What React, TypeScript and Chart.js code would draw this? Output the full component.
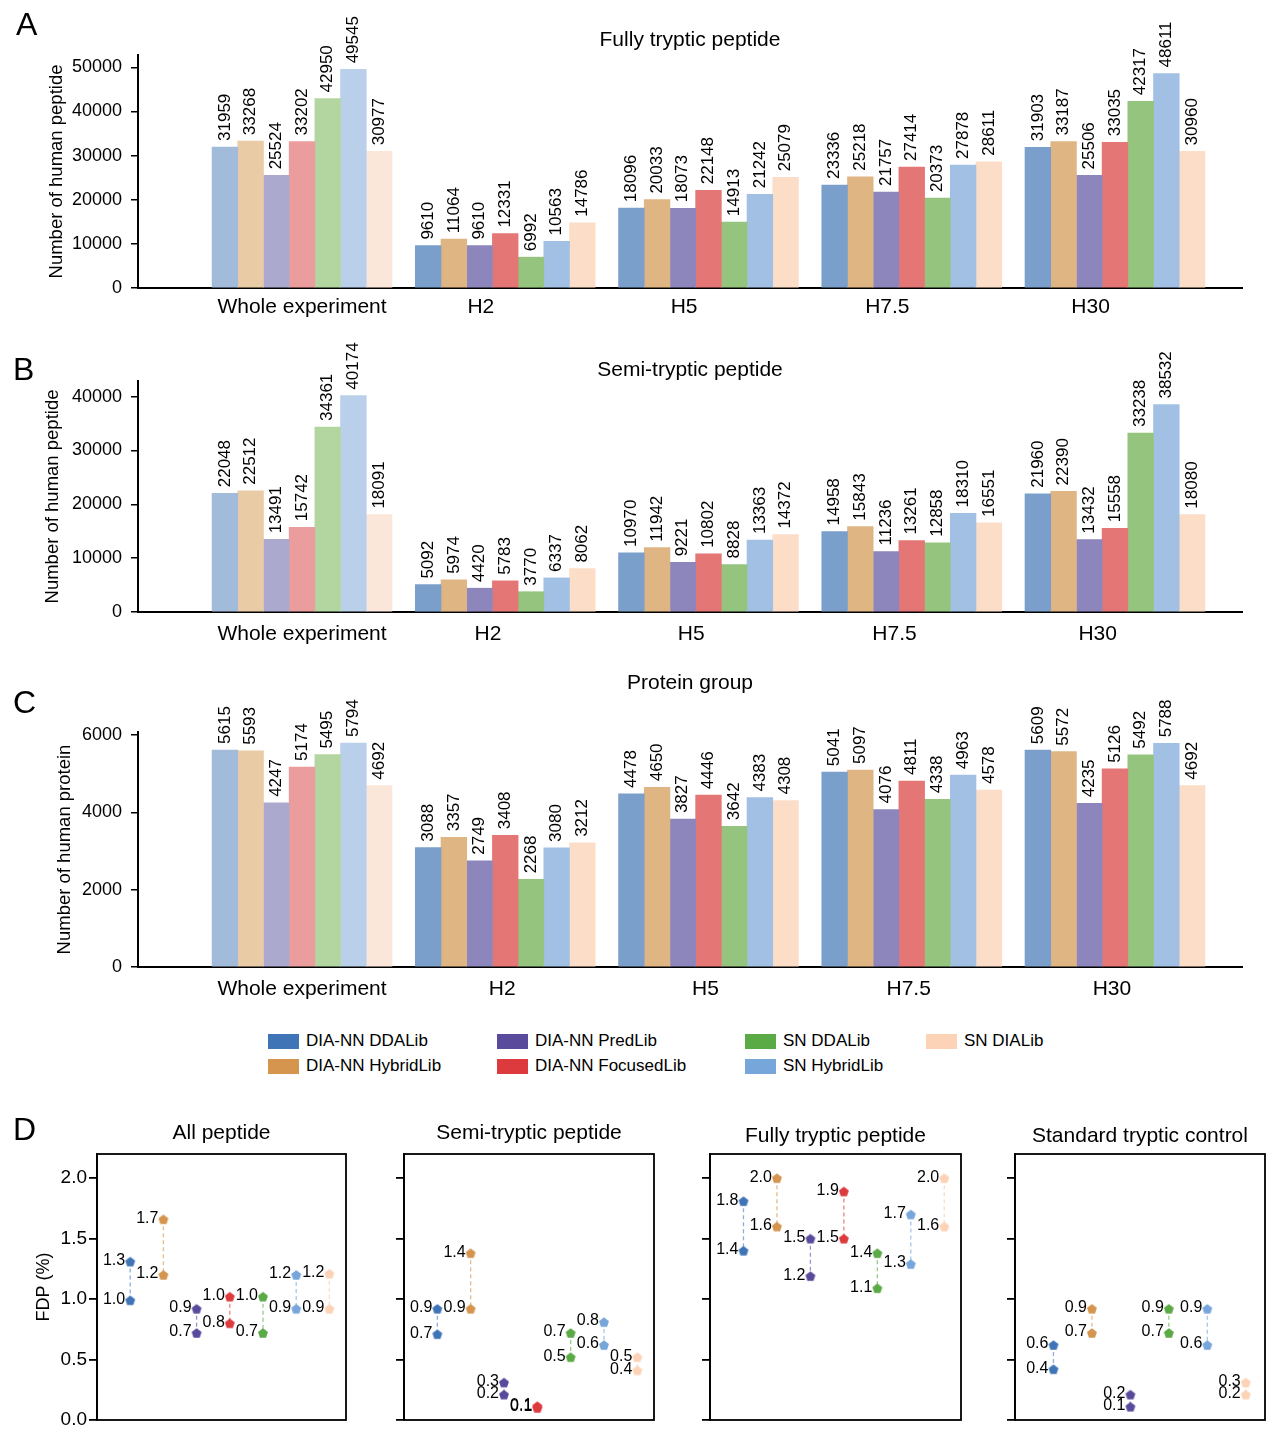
import React, { useEffect, useRef } from 'react';
import { Chart, registerables } from 'chart.js';

Chart.register(...registerables);

const FONT = "'Liberation Sans', Arial, Helvetica, sans-serif";

// ---------- data ----------
const GROUPS = ['Whole experiment', 'H2', 'H5', 'H7.5', 'H30'];
const SERIES = ['DIA-NN DDALib', 'DIA-NN HybridLib', 'DIA-NN PredLib', 'DIA-NN FocusedLib', 'SN DDALib', 'SN HybridLib', 'SN DIALib'];

// A: Fully tryptic peptide
const FULLY_DIANN_DDA = [31959, 9610, 18096, 23336, 31903];
const FULLY_DIANN_HYBRID = [33268, 11064, 20033, 25218, 33187];
const FULLY_DIANN_PRED = [25524, 9610, 18073, 21757, 25506];
const FULLY_DIANN_FOCUSED = [33202, 12331, 22148, 27414, 33035];
const FULLY_SN_DDA = [42950, 6992, 14913, 20373, 42317];
const FULLY_SN_HYBRID = [49545, 10563, 21242, 27878, 48611];
const FULLY_SN_DIA = [30977, 14786, 25079, 28611, 30960];

// B: Semi-tryptic peptide
const SEMI_DIANN_DDA = [22048, 5092, 10970, 14958, 21960];
const SEMI_DIANN_HYBRID = [22512, 5974, 11942, 15843, 22390];
const SEMI_DIANN_PRED = [13491, 4420, 9221, 11236, 13432];
const SEMI_DIANN_FOCUSED = [15742, 5783, 10802, 13261, 15558];
const SEMI_SN_DDA = [34361, 3770, 8828, 12858, 33238];
const SEMI_SN_HYBRID = [40174, 6337, 13363, 18310, 38532];
const SEMI_SN_DIA = [18091, 8062, 14372, 16551, 18080];

// C: Protein group
const PROT_DIANN_DDA = [5615, 3088, 4478, 5041, 5609];
const PROT_DIANN_HYBRID = [5593, 3357, 4650, 5097, 5572];
const PROT_DIANN_PRED = [4247, 2749, 3827, 4076, 4235];
const PROT_DIANN_FOCUSED = [5174, 3408, 4446, 4811, 5126];
const PROT_SN_DDA = [5495, 2268, 3642, 4338, 5492];
const PROT_SN_HYBRID = [5794, 3080, 4383, 4963, 5788];
const PROT_SN_DIA = [4692, 3212, 4308, 4578, 4692];

const A_TICKS = [0, 10000, 20000, 30000, 40000, 50000];
const B_TICKS = [0, 10000, 20000, 30000, 40000];
const C_TICKS = [0, 2000, 4000, 6000];

// D: FDP (%) — [upper, lower] per library
const D_SERIES_ALL = SERIES;
const D_SERIES_STD = ['DIA-NN DDALib', 'DIA-NN HybridLib', 'DIA-NN PredLib', 'SN DDALib', 'SN HybridLib', 'SN DIALib'];
const FDP_ALL_HIGH = [1.31, 1.66, 0.92, 1.02, 1.02, 1.2, 1.21];
const FDP_ALL_LOW = [0.99, 1.2, 0.72, 0.8, 0.72, 0.92, 0.92];
const FDP_SEMI_HIGH = [0.92, 1.38, 0.31, 0.115, 0.72, 0.81, 0.52];
const FDP_SEMI_LOW = [0.71, 0.92, 0.21, 0.1, 0.52, 0.62, 0.41];
const FDP_FULLY_HIGH = [1.81, 2.0, 1.5, 1.89, 1.38, 1.7, 2.0];
const FDP_FULLY_LOW = [1.4, 1.6, 1.19, 1.5, 1.09, 1.29, 1.6];
const FDP_STD_HIGH = [0.62, 0.92, 0.21, 0.92, 0.92, 0.31];
const FDP_STD_LOW = [0.42, 0.72, 0.11, 0.72, 0.62, 0.21];
const FDP_TICKS = [0, 0.5, 1.0, 1.5, 2.0];

// ---------- colours ----------
const COLOR_OF: Record<string, { whole: string; group: string; strong: string; line: string }> = {
  'DIA-NN DDALib': { whole: '#a3bbdb', group: '#7b9fcb', strong: '#3f74b6', line: '#8eaedb' },
  'DIA-NN HybridLib': { whole: '#e9cba6', group: '#e0b584', strong: '#d5954f', line: '#e8bb8a' },
  'DIA-NN PredLib': { whole: '#aca9cf', group: '#8c86bc', strong: '#5a4a9c', line: '#9d93c8' },
  'DIA-NN FocusedLib': { whole: '#eb9d9d', group: '#e47775', strong: '#dd3a3d', line: '#ec8484' },
  'SN DDALib': { whole: '#b3d6a1', group: '#94c47e', strong: '#5aaa45', line: '#95cc84' },
  'SN HybridLib': { whole: '#bad0ea', group: '#a2c0e4', strong: '#77a6db', line: '#a9c6ea' },
  'SN DIALib': { whole: '#fbe7d9', group: '#fcdec8', strong: '#fcd3b6', line: '#fcdcc6' },
};

// ---------- plugins ----------
const barLabelPlugin = {
  id: 'barLabels',
  afterDatasetsDraw(chart: any) {
    const ctx = chart.ctx;
    ctx.save();
    ctx.font = `17px ${FONT}`;
    ctx.fillStyle = '#000';
    ctx.textAlign = 'left';
    ctx.textBaseline = 'middle';
    chart.data.datasets.forEach((ds: any, i: number) => {
      chart.getDatasetMeta(i).data.forEach((el: any, j: number) => {
        const v = ds.data[j].y;
        ctx.save();
        ctx.translate(el.x, el.y - 6);
        ctx.rotate(-Math.PI / 2);
        ctx.fillText(String(v), 0, 0);
        ctx.restore();
      });
    });
    ctx.restore();
  },
};

const frameLabelPlugin = {
  id: 'frameLabels',
  afterDatasetsDraw(chart: any) {
    const ctx = chart.ctx;
    const a = chart.chartArea;
    ctx.save();
    ctx.font = `16px ${FONT}`;
    ctx.fillStyle = '#000';
    ctx.textAlign = 'right';
    ctx.textBaseline = 'middle';
    chart.data.datasets.forEach((ds: any, i: number) => {
      chart.getDatasetMeta(i).data.forEach((el: any, j: number) => {
        ctx.fillText(ds.data[j].y.toFixed(1), el.x - 5, el.y - 1);
      });
    });
    ctx.strokeStyle = '#000';
    ctx.lineWidth = 1.8;
    ctx.strokeRect(a.left, a.top, a.right - a.left, a.bottom - a.top);
    ctx.restore();
  },
};

function pentagon(color: string): HTMLCanvasElement {
  const c = document.createElement('canvas');
  c.width = 12;
  c.height = 12;
  const g = c.getContext('2d')!;
  g.fillStyle = color;
  g.beginPath();
  for (let k = 0; k < 5; k++) {
    const ang = -Math.PI / 2 + (k * 2 * Math.PI) / 5;
    const px = 6 + 5.2 * Math.cos(ang);
    const py = 6.5 + 5.2 * Math.sin(ang);
    if (k === 0) g.moveTo(px, py);
    else g.lineTo(px, py);
  }
  g.closePath();
  g.fill();
  return c;
}

// ---------- bar chart ----------
type BarCfg = {
  top: number;
  height: number;
  title: string;
  yTitle: string;
  series: number[][];
  yMax: number;
  yTicks: number[];
  padTop: number;
  titleGap: number;
  xHeight: number;
  xPad: number;
  labelShift: number;
  yTitlePad: number;
};

function BarPanel(p: BarCfg) {
  const ref = useRef<HTMLCanvasElement>(null);
  useEffect(() => {
    const font = { family: FONT, size: 18 };
    const chart = new Chart(ref.current!, {
      type: 'bar',
      data: {
        datasets: p.series.map((vals, i) => ({
          label: SERIES[i],
          data: vals.map((v, j) => ({ x: j, y: v })),
          backgroundColor: vals.map((_, j) => (j === 0 ? COLOR_OF[SERIES[i]].whole : COLOR_OF[SERIES[i]].group)),
          borderWidth: 0,
          barThickness: 25.7,
        })),
      },
      options: {
        responsive: false,
        animation: false,
        events: [],
        layout: { padding: { top: p.padTop, right: 36, left: 0, bottom: 0 } },
        plugins: {
          legend: { display: false },
          tooltip: { enabled: false },
          title: {
            display: true,
            text: p.title,
            fullSize: false,
            color: '#000',
            font: { family: FONT, size: 21, weight: 'normal', lineHeight: 1 },
            padding: { top: 0, bottom: p.titleGap },
          },
        },
        scales: {
          x: {
            type: 'linear',
            min: -0.807,
            max: 4.625,
            offset: false,
            grid: { display: false, drawTicks: false },
            border: { display: true, color: '#000', width: 2 },
            afterBuildTicks: (s: any) => {
              s.ticks = GROUPS.map((_, i) => ({ value: i + (i === 0 ? 0 : p.labelShift) }));
            },
            afterFit: (s: any) => {
              s.height = p.xHeight;
            },
            ticks: {
              autoSkip: false,
              maxRotation: 0,
              padding: p.xPad,
              color: '#000',
              font: { family: FONT, size: 21 },
              callback: (_v: any, idx: number) => GROUPS[idx],
            },
          },
          y: {
            min: 0,
            max: p.yMax,
            afterBuildTicks: (s: any) => {
              s.ticks = p.yTicks.map((v) => ({ value: v }));
            },
            afterFit: (s: any) => {
              s.width = 138;
            },
            grid: { display: true, drawOnChartArea: false, drawTicks: true, tickLength: 7, color: '#000', lineWidth: 1.5 },
            border: { display: true, color: '#000', width: 2 },
            ticks: { color: '#000', font, padding: 9, callback: (v: any) => String(v) },
            title: {
              display: true,
              text: p.yTitle,
              color: '#000',
              font: { family: FONT, size: 18.5, lineHeight: 1.2 },
              padding: { top: p.yTitlePad, bottom: 0 },
            },
          },
        },
      } as any,
      plugins: [barLabelPlugin],
    });
    return () => chart.destroy();
  }, []);
  return (
    <canvas
      ref={ref}
      width={1278}
      height={p.height}
      style={{ position: 'absolute', left: 0, top: p.top, width: 1278, height: p.height }}
    />
  );
}

// ---------- FDP panel ----------
type FdpCfg = {
  frameL: number;
  frameR: number;
  axisW: number;
  title: string;
  names: string[];
  highs: number[];
  lows: number[];
  showTickLabels: boolean;
  titleCenter: number;
};

const D_TOP = 1100;
const D_HEIGHT = 340;
const D_FRAME_TOP = 1154;
const D_FRAME_BOTTOM = 1420;

function FdpPanel(p: FdpCfg) {
  const ref = useRef<HTMLCanvasElement>(null);
  const left = p.frameL - p.axisW;
  const width = p.frameR - p.frameL + p.axisW + 10;
  useEffect(() => {
    const n = p.names.length;
    const titleSize = 21;
    const padTop = p.titleCenter - D_TOP - titleSize / 2;
    const gap = D_FRAME_TOP - D_TOP - padTop - titleSize;
    const chart = new Chart(ref.current!, {
      type: 'scatter',
      data: {
        datasets: p.names.map((name, i) => {
          const c = COLOR_OF[name];
          const img = pentagon(c.strong);
          return {
            label: name,
            data: [
              { x: i, y: p.highs[i] },
              { x: i, y: p.lows[i] },
            ],
            showLine: true,
            borderColor: c.line,
            borderWidth: 1.3,
            borderDash: [4, 3],
            pointStyle: img,
            pointRadius: 6,
            backgroundColor: c.strong,
          };
        }),
      },
      options: {
        responsive: false,
        animation: false,
        events: [],
        layout: { padding: { top: padTop, right: 10, left: 0, bottom: D_TOP + D_HEIGHT - D_FRAME_BOTTOM } },
        plugins: {
          legend: { display: false },
          tooltip: { enabled: false },
          title: {
            display: true,
            text: p.title,
            fullSize: false,
            color: '#000',
            font: { family: FONT, size: titleSize, weight: 'normal', lineHeight: 1 },
            padding: { top: 0, bottom: gap },
          },
        },
        scales: {
          x: { type: 'linear', min: -1, max: n - 0.5, display: false },
          y: {
            min: 0,
            max: 2.2,
            afterBuildTicks: (s: any) => {
              s.ticks = FDP_TICKS.map((v) => ({ value: v }));
            },
            afterFit: (s: any) => {
              s.width = p.axisW;
            },
            grid: { display: true, drawOnChartArea: false, drawTicks: true, tickLength: 8, color: '#000', lineWidth: 1.8 },
            border: { display: true, color: '#000', width: 1.8 },
            ticks: {
              display: p.showTickLabels,
              color: '#000',
              font: { family: FONT, size: 19 },
              padding: 2,
              callback: (v: any) => Number(v).toFixed(1),
            },
            title: {
              display: p.showTickLabels,
              text: 'FDP (%)',
              color: '#000',
              font: { family: FONT, size: 18, lineHeight: 1.2 },
              padding: { top: 33, bottom: 0 },
            },
          },
        },
      } as any,
      plugins: [frameLabelPlugin],
    });
    return () => chart.destroy();
  }, []);
  return (
    <canvas
      ref={ref}
      width={width}
      height={D_HEIGHT}
      style={{ position: 'absolute', left, top: D_TOP, width, height: D_HEIGHT }}
    />
  );
}

// ---------- legend ----------
const LEGEND_COLUMNS = [
  ['DIA-NN DDALib', 'DIA-NN HybridLib'],
  ['DIA-NN PredLib', 'DIA-NN FocusedLib'],
  ['SN DDALib', 'SN HybridLib'],
  ['SN DIALib'],
];
const LEGEND_X = [268, 497, 745, 926];
const LEGEND_Y = [1041, 1066];

function Legend() {
  return (
    <>
      {LEGEND_COLUMNS.map((col, ci) =>
        col.map((name, ri) => (
          <div
            key={name}
            style={{
              position: 'absolute',
              left: LEGEND_X[ci],
              top: LEGEND_Y[ri] - 10,
              height: 20,
              display: 'flex',
              alignItems: 'center',
              fontFamily: FONT,
              fontSize: 17,
              color: '#000',
              whiteSpace: 'nowrap',
            }}
          >
            <span style={{ display: 'inline-block', width: 31, height: 15, background: COLOR_OF[name].strong, marginRight: 7 }} />
            {name}
          </div>
        ))
      )}
    </>
  );
}

function Letter({ ch, x, y }: { ch: string; x: number; y: number }) {
  return (
    <div style={{ position: 'absolute', left: x, top: y, fontFamily: FONT, fontSize: 32, lineHeight: '32px', color: '#000' }}>{ch}</div>
  );
}

export default function App() {
  return (
    <div style={{ position: 'absolute', left: 0, top: 0, width: 1278, height: 1440, background: '#fff', overflow: 'hidden' }}>
      <BarPanel
        top={0}
        height={330}
        title="Fully tryptic peptide"
        yTitle="Number of human peptide"
        series={[FULLY_DIANN_DDA, FULLY_DIANN_HYBRID, FULLY_DIANN_PRED, FULLY_DIANN_FOCUSED, FULLY_SN_DDA, FULLY_SN_HYBRID, FULLY_SN_DIA]}
        yMax={52800}
        yTicks={A_TICKS}
        padTop={30}
        titleGap={4}
        xHeight={42}
        xPad={7}
        labelShift={-0.12}
        yTitlePad={46}
      />
      <BarPanel
        top={330}
        height={330}
        title="Semi-tryptic peptide"
        yTitle="Number of human peptide"
        series={[SEMI_DIANN_DDA, SEMI_DIANN_HYBRID, SEMI_DIANN_PRED, SEMI_DIANN_FOCUSED, SEMI_SN_DDA, SEMI_SN_HYBRID, SEMI_SN_DIA]}
        yMax={42900}
        yTicks={B_TICKS}
        padTop={30}
        titleGap={0}
        xHeight={48}
        xPad={10}
        labelShift={-0.085}
        yTitlePad={42}
      />
      <BarPanel
        top={660}
        height={360}
        title="Protein group"
        yTitle="Number of human protein"
        series={[PROT_DIANN_DDA, PROT_DIANN_HYBRID, PROT_DIANN_PRED, PROT_DIANN_FOCUSED, PROT_SN_DDA, PROT_SN_HYBRID, PROT_SN_DIA]}
        yMax={6080}
        yTicks={C_TICKS}
        padTop={13}
        titleGap={38}
        xHeight={53}
        xPad={10}
        labelShift={-0.015}
        yTitlePad={54}
      />
      <Legend />
      <FdpPanel frameL={97} frameR={346} axisW={97} title="All peptide" names={D_SERIES_ALL} highs={FDP_ALL_HIGH} lows={FDP_ALL_LOW} showTickLabels titleCenter={1133} />
      <FdpPanel frameL={404} frameR={654} axisW={20} title="Semi-tryptic peptide" names={D_SERIES_ALL} highs={FDP_SEMI_HIGH} lows={FDP_SEMI_LOW} showTickLabels={false} titleCenter={1133} />
      <FdpPanel frameL={710} frameR={961} axisW={20} title="Fully tryptic peptide" names={D_SERIES_ALL} highs={FDP_FULLY_HIGH} lows={FDP_FULLY_LOW} showTickLabels={false} titleCenter={1136} />
      <FdpPanel frameL={1015} frameR={1265} axisW={20} title="Standard tryptic control" names={D_SERIES_STD} highs={FDP_STD_HIGH} lows={FDP_STD_LOW} showTickLabels={false} titleCenter={1136} />
      <Letter ch="A" x={16} y={8} />
      <Letter ch="B" x={13} y={353} />
      <Letter ch="C" x={13} y={686} />
      <Letter ch="D" x={13} y={1113} />
    </div>
  );
}
